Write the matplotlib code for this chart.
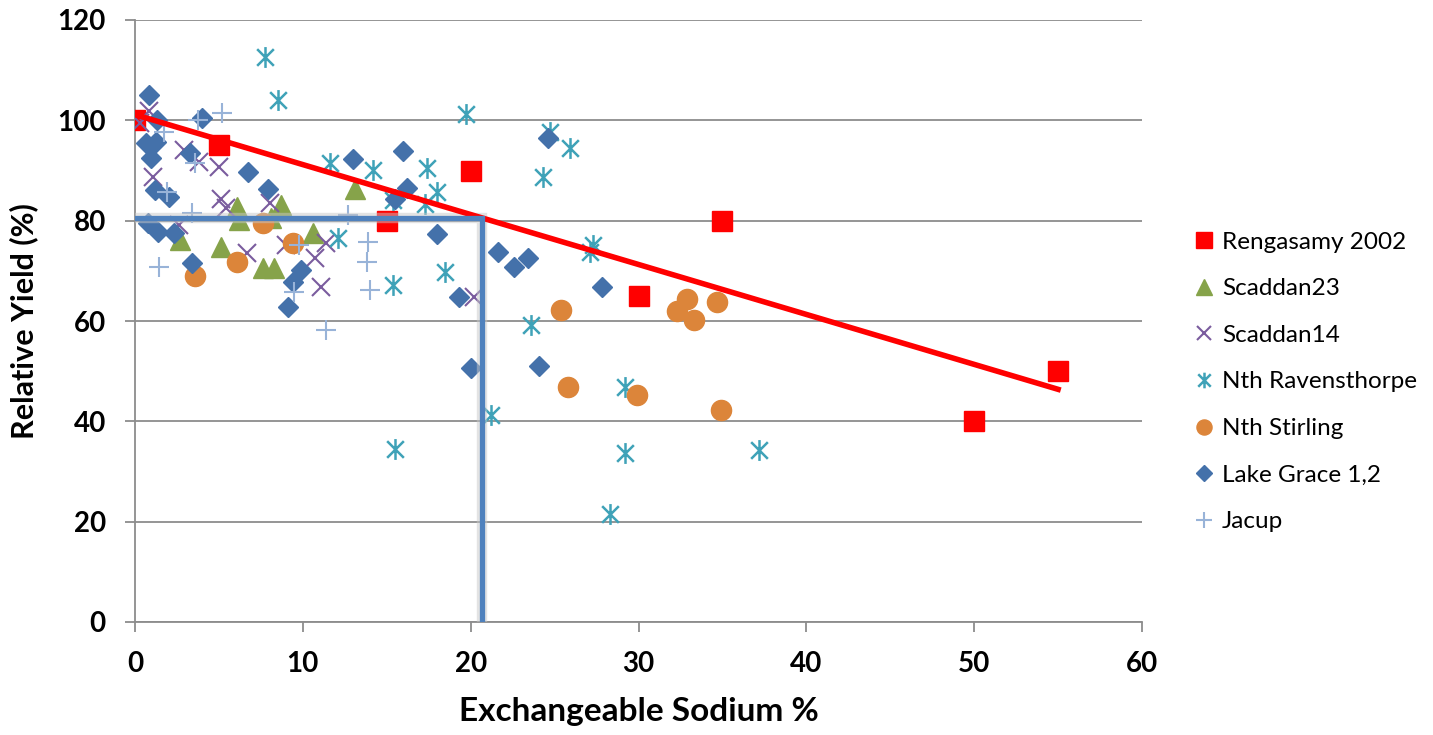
import numpy as np
import matplotlib
matplotlib.use("Agg")
import matplotlib.pyplot as plt
from matplotlib.path import Path

plt.rcParams['font.family'] = ['Lato', 'DejaVu Sans']

# --- data ---
reng_x = [0, 5, 15, 20, 30, 35, 50, 55]
reng_y = [100, 95, 80, 90, 65, 80, 40, 50]

sc23_x = [2.7, 5.1, 6.1, 6.2, 8.1, 7.6, 8.3, 8.7, 10.6, 13.1]
sc23_y = [76.1, 74.8, 82.8, 80.1, 80.5, 70.5, 70.5, 83.1, 77.5, 86.3]

sc14_x = [0.85, 0.3, 2.9, 3.8, 5.0, 1.1, 5.1, 5.4, 8.05, 2.6, 6.65, 9.0, 10.7, 11.4, 11.1, 20.2]
sc14_y = [101.8, 99.4, 94.0, 91.7, 90.7, 88.8, 84.4, 82.5, 83.5, 79.1, 73.5, 75.1, 72.5, 75.5, 66.8, 64.8]

rav_x = [7.75, 8.5, 19.7, 11.6, 14.2, 17.4, 18.0, 15.4, 17.3, 12.1, 15.4, 18.5,
         24.7, 25.9, 24.3, 27.3, 27.1, 23.6, 29.2, 21.2, 15.5, 29.2, 37.2, 28.3]
rav_y = [112.6, 104.0, 101.3, 91.5, 90.1, 90.4, 85.8, 84.1, 83.4, 76.5, 67.2, 69.7,
         97.7, 94.4, 88.8, 75.1, 73.8, 59.2, 46.9, 41.3, 34.5, 33.7, 34.3, 21.5]

stir_x = [3.6, 6.05, 7.65, 9.4, 25.4, 25.8, 29.9, 32.3, 32.9, 33.3, 34.7, 34.9]
stir_y = [69.0, 71.8, 79.5, 75.5, 62.2, 46.9, 45.2, 62.0, 64.3, 60.2, 63.7, 42.3]

lg_x = [0.85, 1.3, 4.0, 0.66, 1.25, 0.93, 3.3, 6.75, 1.2, 2.0, 7.95, 0.8, 1.4, 2.3, 3.4,
        9.9, 9.4, 9.1, 13.0, 15.95, 16.2, 15.5, 18.0, 19.3, 21.6, 20.0, 24.6, 22.6, 23.4, 27.8, 24.1]
lg_y = [105.0, 100.0, 100.4, 95.4, 95.7, 92.4, 93.4, 89.8, 86.1, 84.8, 86.4, 79.5, 77.8, 77.5, 71.5,
        70.2, 67.8, 62.8, 92.2, 93.9, 86.6, 84.4, 77.3, 64.8, 73.8, 50.6, 96.4, 70.7, 72.5, 66.8, 51.0]

jac_x = [1.7, 3.75, 5.2, 3.6, 1.9, 3.4, 1.45, 9.8, 9.5, 11.4, 12.7, 13.9, 13.8, 14.0]
jac_y = [97.7, 100.0, 101.4, 91.4, 85.8, 81.5, 70.8, 75.1, 65.8, 58.2, 81.1, 75.8, 71.8, 66.2]

# Excel-like asterisk marker: vertical bar + X
star = Path([(0, -1), (0, 1), (-0.8, -0.8), (0.8, 0.8), (-0.8, 0.8), (0.8, -0.8)],
            [Path.MOVETO, Path.LINETO, Path.MOVETO, Path.LINETO, Path.MOVETO, Path.LINETO])

fig = plt.figure(figsize=(14.33, 7.35), dpi=100)
ax = fig.add_axes([135/1433, 1 - 622/735, (1142 - 135)/1433, (622 - 20)/735])

ax.plot(reng_x, reng_y, ls='none', marker='s', ms=14.5, color='#FF0000', label='Rengasamy 2002', zorder=3)
ax.plot(sc23_x, sc23_y, ls='none', marker='^', ms=14.5, color='#86A34A', label='Scaddan23', zorder=3)
ax.plot(sc14_x, sc14_y, ls='none', marker='x', ms=13.5, mew=1.5, color='#7A5C9E', label='Scaddan14', zorder=3)
ax.plot(rav_x, rav_y, ls='none', marker=star, ms=15, mew=1.8, color='#3FA2B8', mfc='none',
        label='Nth Ravensthorpe', zorder=3)
ax.plot(stir_x, stir_y, ls='none', marker='o', ms=14.5, color='#DC853A', label='Nth Stirling', zorder=3)
ax.plot(lg_x, lg_y, ls='none', marker='D', ms=10.5, color='#4471AA', label='Lake Grace 1,2', zorder=3)
ax.plot(jac_x, jac_y, ls='none', marker='+', ms=15, mew=1.5, color='#98B3D8', label='Jacup', zorder=3)

# linear trend through Rengasamy 2002
m, c = np.polyfit(reng_x, reng_y, 1)
tx = np.array([0, 55])
ax.plot(tx, m * tx + c, color='#FF0000', lw=4, zorder=5)

# 80% relative yield guide lines
x80 = 20.7
y80 = m * x80 + c
ax.plot([0, x80, x80], [y80, y80, 0], color='#C8C8C8', lw=7.5, alpha=0.5, zorder=4,
        solid_joinstyle='miter')
ax.plot([0, x80, x80], [y80, y80, 0], color='#4F81BD', lw=3.8, zorder=6, solid_joinstyle='miter')

ax.set_xlim(0, 60)
ax.set_ylim(0, 120)
ax.set_xticks(range(0, 61, 10))
ax.set_yticks(range(0, 121, 20))
ax.grid(axis='y', color='#8C8C8C', lw=1.3)
ax.set_axisbelow(True)
for s in ['top', 'right']:
    ax.spines[s].set_visible(False)
for s in ['left', 'bottom']:
    ax.spines[s].set_color('#8C8C8C')
    ax.spines[s].set_linewidth(1.3)
ax.tick_params(axis='both', length=7, width=1.3, color='#8C8C8C', labelsize=20)
ax.tick_params(axis='x', pad=14)
ax.tick_params(axis='y', pad=14)
for lab in ax.get_xticklabels() + ax.get_yticklabels():
    lab.set_fontweight('bold')
ax.set_xlabel('Exchangeable Sodium %', fontsize=24, fontweight='bold', labelpad=14)
ax.set_ylabel('Relative Yield (%)', fontsize=22, fontweight='bold', labelpad=14)

fig.legend(loc='upper left', bbox_to_anchor=(1172/1433, 1 - 210/735), frameon=False,
           fontsize=17.5, labelspacing=1.05, handlelength=0.8, handletextpad=0.35, markerscale=0.75)

fig.savefig('out.png', dpi=100)
